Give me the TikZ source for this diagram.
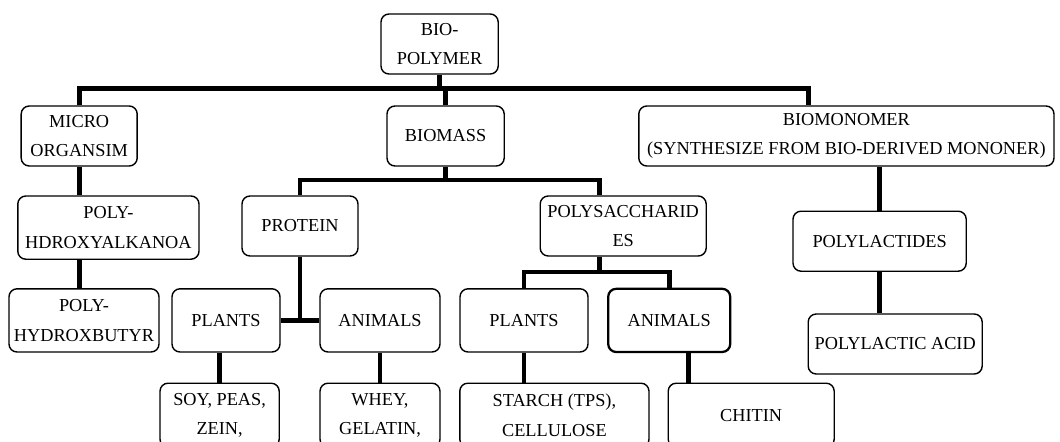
\documentclass[tikz,border=0pt]{standalone}
\usepackage{fontspec}
\setmainfont{Liberation Serif}

\begin{document}
\begin{tikzpicture}[
box/.style={draw,line width=1pt,rounded corners=0.2cm,align=center,inner sep=1pt,
  minimum height=1.5cm,font=\fontsize{13}{21}\selectfont},
link/.style={line width=3.5pt}]

\useasboundingbox (0,0) rectangle (26.5,-11.025);

\node[box,minimum width=2.93cm]
(bio)
at (10.99,-1.1)
{BIO-\\POLYMER};

\node[box,minimum width=2.9cm]
(micro)
at (1.98,-3.4)
{MICRO\\ORGANSIM};

\node[box,minimum width=2.93cm]
(biomass)
at (11.14,-3.4)
{BIOMASS};

\node[box,minimum width=10.38cm]
(mono)
at (21.16,-3.4)
{BIOMONOMER\\(SYNTHESIZE FROM BIO-DERIVED MONONER)};

\node[box,minimum width=4.53cm,minimum height=1.58cm]
(pha)
at (2.71,-5.69)
{POLY-\\HDROXYALKANOA};

\node[box,minimum width=3.75cm,minimum height=1.58cm]
(phb)
at (2.1,-8.01)
{POLY-\\HYDROXBUTYR};

\node[box,minimum width=2.9cm]
(protein)
at (7.5,-5.65)
{PROTEIN};

\node[box,minimum width=4.15cm]
(polysac)
at (15.58,-5.65)
{POLYSACCHARID\\ES};

\node[box,minimum width=2.7cm,minimum height=1.58cm]
(pplants)
at (5.65,-8.01)
{PLANTS};

\node[box,minimum width=3cm,minimum height=1.58cm]
(panimals)
at (9.5,-8.01)
{ANIMALS};

\node[box,minimum width=3.2cm,minimum height=1.58cm]
(splants)
at (13.1,-8.01)
{PLANTS};

\node[box,line width=1.6pt,minimum width=3.05cm,minimum height=1.58cm]
(sanimals)
at (16.73,-8.01)
{ANIMALS};

\node[box,minimum width=2.98cm,minimum height=1.6cm]
(soy)
at (5.49,-10.38)
{SOY, PEAS,\\ZEIN,};

\node[box,minimum width=3cm,minimum height=1.6cm]
(whey)
at (9.5,-10.38)
{WHEY,\\GELATIN,};

\node[box,minimum width=4.73cm,minimum height=1.6cm]
(starch)
at (13.86,-10.38)
{STARCH (TPS),\\CELLULOSE};

\node[box,minimum width=4.15cm,minimum height=1.6cm]
(chitin)
at (18.78,-10.38)
{CHITIN};

\node[box,minimum width=4.33cm]
(plaides)
at (21.99,-6.03)
{POLYLACTIDES};

\node[box,minimum width=4.35cm]
(plaacid)
at (22.38,-8.6)
{POLYLACTIC ACID};

% junction points
\coordinate (topr) at (20.22,-2.22);
\coordinate (midr) at (14.98,-4.5);
\coordinate (sj) at (14.98,-6.8);
\coordinate (cj) at (17.22,0);

\draw[link]
(micro.north) |- (topr) -- (topr |- mono.north);

\draw[link]
(bio.south) -- (bio.south |- topr);

\draw[link]
(biomass.north) -- (biomass.north |- topr);

\draw[link]
(micro.south) -- (micro.south |- pha.north);

\draw[link]
(micro.south |- pha.south) -- (micro.south |- phb.north);

\draw[link]
(protein.north) |- (midr) -- (midr |- polysac.north);

\draw[link]
(biomass.south) -- (biomass.south |- midr);

\draw[link]
(protein.south) -- (protein.south |- pplants.east);

\draw[link]
(pplants.east) -- (panimals.west);

\draw[link]
(soy.north) -- (soy.north |- pplants.south);

\draw[link]
(panimals.south) -- (whey.north);

\draw[link]
(splants.north) |- (sj) -| (sanimals.north);

\draw[link]
(sj |- polysac.south) -- (sj);

\draw[link]
(splants.south) -- (splants.south |- starch.north);

\draw[link]
(cj |- sanimals.south) -- (cj |- chitin.north);

\draw[link]
(plaides.north) -- (plaides.north |- mono.south);

\draw[link]
(plaides.south) -- (plaides.south |- plaacid.north);

\end{tikzpicture}
\end{document}
